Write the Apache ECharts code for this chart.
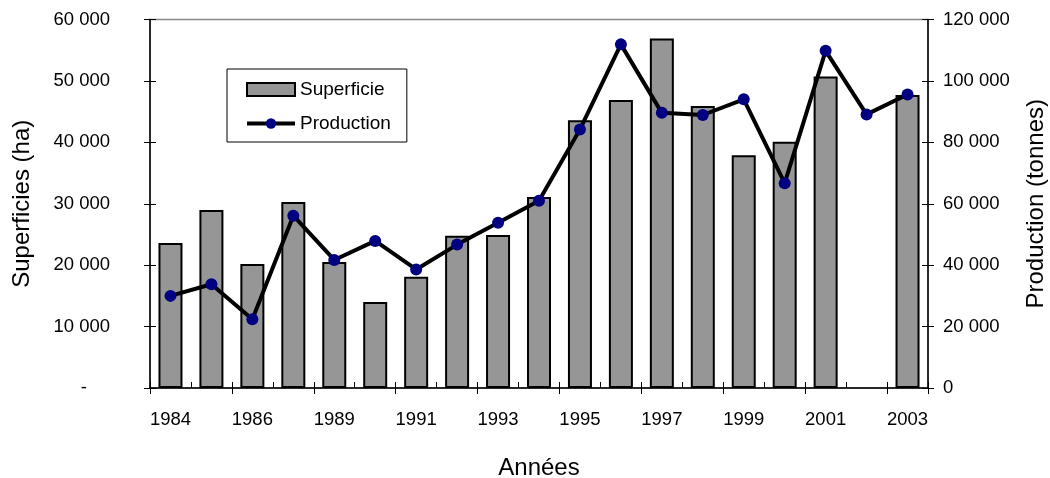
<!DOCTYPE html>
<html>
<head>
    <meta charset="utf-8">
    <title>Superficies et production</title>
    <style>
        html, body { margin: 0; padding: 0; background: #fff; }
        #chart { width: 1050px; height: 478px; }
    </style>
</head>
<body>
<div id="chart"></div>
<script src="https://cdn.jsdelivr.net/npm/echarts@6/dist/echarts.min.js"></script>
<script>
    // années (1988 absente du graphique)
    var annees = ['1984', '1985', '1986', '1987', '1989', '1990', '1991', '1992', '1993', '1994',
        '1995', '1996', '1997', '1998', '1999', '2000', '2001', '2002', '2003'];
    // superficies (ha)
    var superficie = [23600, 29000, 20200, 30300, 20500, 14000, 18100, 24800, 24900, 31100,
        43600, 46900, 56900, 45900, 37900, 40100, 50700, null, 47700];
    // production (tonnes)
    var production = [30000, 33800, 22400, 56100, 41700, 47900, 38600, 46700, 53800, 61000,
        84200, 111900, 89600, 88900, 94000, 66700, 109800, 89100, 95600];

    var police = '"Liberation Sans", Arial, sans-serif';

    function milliers(v) {
        return String(v).replace(/\B(?=(\d{3})+(?!\d))/g, ' ');
    }

    var option = {
        backgroundColor: '#fff',
        textStyle: { fontFamily: police },
        animation: false,
        grid: {
            left: 150, right: 122, top: 19.5, bottom: 90,
            outerBoundsMode: 'none',
            show: true, borderColor: '#888', borderWidth: 1.5, backgroundColor: 'transparent'
        },
        legend: {
            orient: 'vertical',
            left: 227, top: 69,
            padding: [11, 16, 9, 18],
            itemGap: 15,
            itemWidth: 48, itemHeight: 13,
            borderColor: '#000', borderWidth: 1,
            textStyle: { fontSize: 19, color: '#000', fontFamily: police },
            lineStyle: { width: 4, color: '#000' },
            data: [
                { name: 'Superficie', icon: 'rect' },
                { name: 'Production' }
            ]
        },
        xAxis: [
            {
                type: 'category', data: annees,
                name: 'Années', nameLocation: 'middle', nameGap: 68,
                nameTextStyle: { fontSize: 24, color: '#000' },
                axisLine: { lineStyle: { color: '#000', width: 1.5 } },
                axisTick: { show: true, length: 6, lineStyle: { color: '#000' } },
                axisLabel: { interval: 1, margin: 22, fontSize: 18.5, color: '#000' }
            },
            {
                // petits traits vers l'intérieur
                type: 'category', data: annees, position: 'bottom',
                axisLine: { show: false },
                axisTick: { show: true, inside: true, length: 6, lineStyle: { color: '#000' } },
                axisLabel: { show: false }
            }
        ],
        yAxis: [
            {
                type: 'value', min: 0, max: 60000, interval: 10000,
                name: 'Superficies (ha)', nameLocation: 'middle', nameGap: 116,
                nameTextStyle: { fontSize: 24, color: '#000' },
                axisLine: { show: true, lineStyle: { color: '#000', width: 1.5 } },
                axisTick: { show: true, length: 6, lineStyle: { color: '#000' } },
                splitLine: { show: false },
                axisLabel: {
                    margin: 40, fontSize: 18.5, color: '#000',
                    formatter: function (v) { return v === 0 ? '{d|-}' : milliers(v); },
                    rich: { d: { fontSize: 18.5, color: '#000', padding: [0, 23, 0, 0] } }
                }
            },
            {
                type: 'value', min: 0, max: 120000, interval: 20000, position: 'right',
                name: 'Production (tonnes)', nameLocation: 'middle', nameGap: 96,
                nameTextStyle: { fontSize: 24, color: '#000' },
                axisLine: { show: true, lineStyle: { color: '#000', width: 1.5 } },
                axisTick: { show: true, length: 6, lineStyle: { color: '#000' } },
                splitLine: { show: false },
                axisLabel: { margin: 15, fontSize: 18.5, color: '#000', formatter: milliers }
            },
            {
                type: 'value', min: 0, max: 60000, interval: 10000, position: 'left',
                axisLine: { show: false },
                axisTick: { show: true, inside: true, length: 6, lineStyle: { color: '#000' } },
                axisLabel: { show: false }, splitLine: { show: false }
            },
            {
                type: 'value', min: 0, max: 120000, interval: 20000, position: 'right',
                axisLine: { show: false },
                axisTick: { show: true, inside: true, length: 6, lineStyle: { color: '#000' } },
                axisLabel: { show: false }, splitLine: { show: false }
            }
        ],
        series: [
            {
                name: 'Superficie', type: 'bar', xAxisIndex: 0, yAxisIndex: 0,
                data: superficie, barWidth: 24,
                itemStyle: { color: '#969696', borderColor: '#000', borderWidth: 2 }
            },
            {
                name: 'Production', type: 'line', xAxisIndex: 0, yAxisIndex: 1,
                data: production,
                symbol: 'circle', symbolSize: 12,
                lineStyle: { color: '#000', width: 4 },
                itemStyle: { color: '#000080', borderWidth: 0 }
            }
        ]
    };

    var graphe = echarts.init(document.getElementById('chart'));
    graphe.setOption(option);
</script>
</body>
</html>
